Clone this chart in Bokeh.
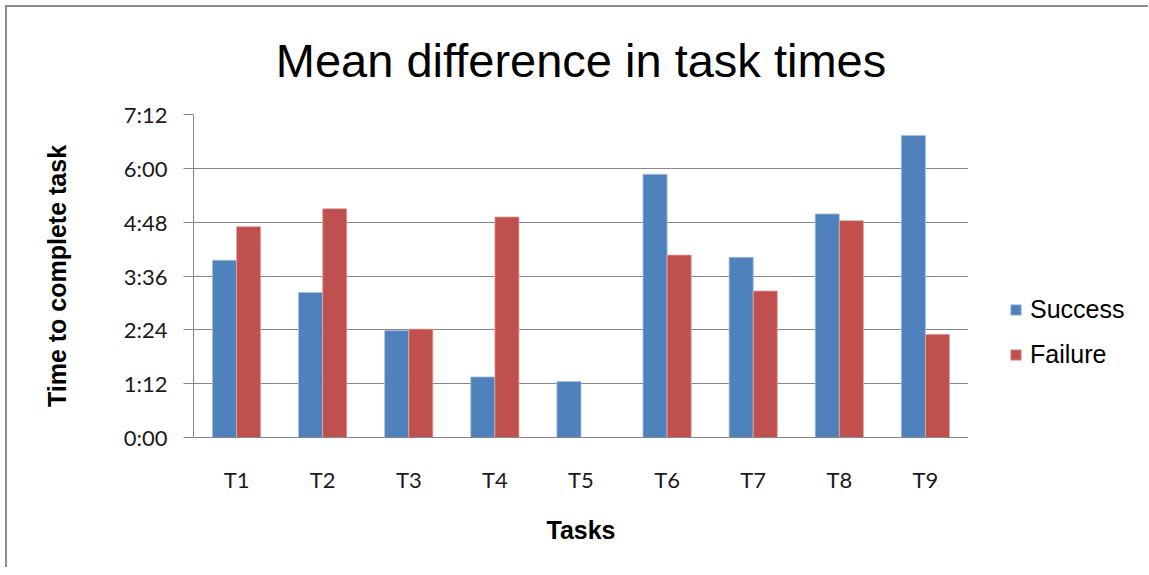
from bokeh.plotting import figure
from bokeh.layouts import row
from bokeh.models import ColumnDataSource, Range1d, FactorRange, FixedTicker, Legend, LegendItem
from bokeh.transform import dodge
from bokeh.embed import file_html
from bokeh.resources import INLINE

# ---- data (seconds) ----
tasks = ["T1", "T2", "T3", "T4", "T5", "T6", "T7", "T8", "T9"]
success_sec = [237, 194, 143, 81, 75, 352, 241, 299, 404]
failure_sec = [282, 306, 145, 295, 0, 244, 196, 290, 138]
y_ticks = [0, 72, 144, 216, 288, 360, 432]
y_tick_labels = ["0:00", "1:12", "2:24", "3:36", "4:48", "6:00", "7:12"]
series_names = ["Success", "Failure"]

BLUE = "#4F81BD"
RED = "#C0504D"
BLUE_EDGE = "#A7BFDE"
RED_EDGE = "#E0A8A6"
GRID = "#878787"
BORDER = 7

src = ColumnDataSource(dict(task=tasks, success=success_sec, failure=failure_sec))

p = figure(
    x_range=FactorRange(*tasks, range_padding=0),
    y_range=Range1d(0, 432),
    width=968 - BORDER, height=567 - BORDER,
    output_backend="svg", toolbar_location=None,
    min_border_left=193 - BORDER, min_border_right=0,
    min_border_top=114 - BORDER, min_border_bottom=130,
    title="Mean difference in task times",
)

r1 = p.vbar(x=dodge("task", -0.14, range=p.x_range), top="success", width=0.28,
            source=src, fill_color=BLUE, line_color=BLUE_EDGE, line_width=0.8)
r2 = p.vbar(x=dodge("task", 0.14, range=p.x_range), top="failure", width=0.28,
            source=src, fill_color=RED, line_color=RED_EDGE, line_width=0.8)

# title
p.title.text_font = "Liberation Sans"
p.title.text_font_size = "47px"
p.title.text_font_style = "normal"
p.title.align = "center"
p.title.vertical_align = "top"
p.title.text_color = "#000000"
p.title.standoff = 52

# y axis
p.yaxis.ticker = FixedTicker(ticks=y_ticks)
p.yaxis.major_label_overrides = {t: l for t, l in zip(y_ticks, y_tick_labels)}
p.yaxis.major_label_text_font = "Lato"
p.yaxis.major_label_text_font_size = "22px"
p.yaxis.major_label_text_color = "#1a1a1a"
p.yaxis.major_tick_out = 10
p.yaxis.major_tick_in = 0
p.yaxis.minor_tick_line_color = None
p.yaxis.major_tick_line_color = GRID
p.yaxis.axis_line_color = GRID
p.yaxis.major_label_standoff = 16
p.yaxis.axis_label = "Time to complete task"
p.yaxis.axis_label_text_font = "Liberation Sans"
p.yaxis.axis_label_text_font_style = "bold"
p.yaxis.axis_label_text_font_size = "25px"
p.yaxis.axis_label_text_color = "#000000"
p.yaxis.axis_label_standoff = 50

# x axis
p.xaxis.major_label_text_font = "Lato"
p.xaxis.major_label_text_font_size = "22px"
p.xaxis.major_label_text_color = "#1a1a1a"
p.xaxis.major_tick_line_color = None
p.xaxis.minor_tick_line_color = None
p.xaxis.axis_line_color = GRID
p.xaxis.major_label_standoff = 22
p.xaxis.axis_label = "Tasks"
p.xaxis.axis_label_text_font = "Liberation Sans"
p.xaxis.axis_label_text_font_style = "bold"
p.xaxis.axis_label_text_font_size = "25px"
p.xaxis.axis_label_text_color = "#000000"
p.xaxis.axis_label_standoff = 20

# grid
p.xgrid.grid_line_color = None
p.ygrid.grid_line_color = GRID
p.ygrid.grid_line_width = 1.2
p.outline_line_color = None

# legend panel (separate figure to the right of the plot area); its key
# renderers share the series styles but are hidden (legend keys only)
lg = figure(width=180, height=567 - BORDER, output_backend="svg", toolbar_location=None,
            min_border_left=0, min_border_right=0, min_border_top=0, min_border_bottom=0,
            x_range=Range1d(0, 1), y_range=Range1d(0, 1))
lg.axis.visible = False
lg.grid.visible = False
lg.outline_line_color = None
k1 = lg.vbar(x="success", top="success", width=0.28, source=src,
             fill_color=BLUE, line_color=BLUE_EDGE, line_width=0.8, visible=False)
k2 = lg.vbar(x="failure", top="failure", width=0.28, source=src,
             fill_color=RED, line_color=RED_EDGE, line_width=0.8, visible=False)

legend = Legend(
    items=[LegendItem(label=series_names[0], renderers=[k1]),
           LegendItem(label=series_names[1], renderers=[k2])],
    location=(41, 68),
    label_text_font="Liberation Sans", label_text_font_size="25px",
    label_text_color="#000000",
    glyph_width=13, glyph_height=13, label_height=30, spacing=15,
    label_standoff=8, padding=0, margin=0,
    border_line_color=None, background_fill_alpha=0,
    inactive_fill_alpha=0,
)
lg.add_layout(legend, "center")

layout = row(p, lg, styles={"border-top": "2px solid #8c8c8c",
                            "border-left": "2px solid #8c8c8c",
                            "margin": "5px 0 0 5px"})

open("out.html", "w").write(file_html(layout, INLINE))
